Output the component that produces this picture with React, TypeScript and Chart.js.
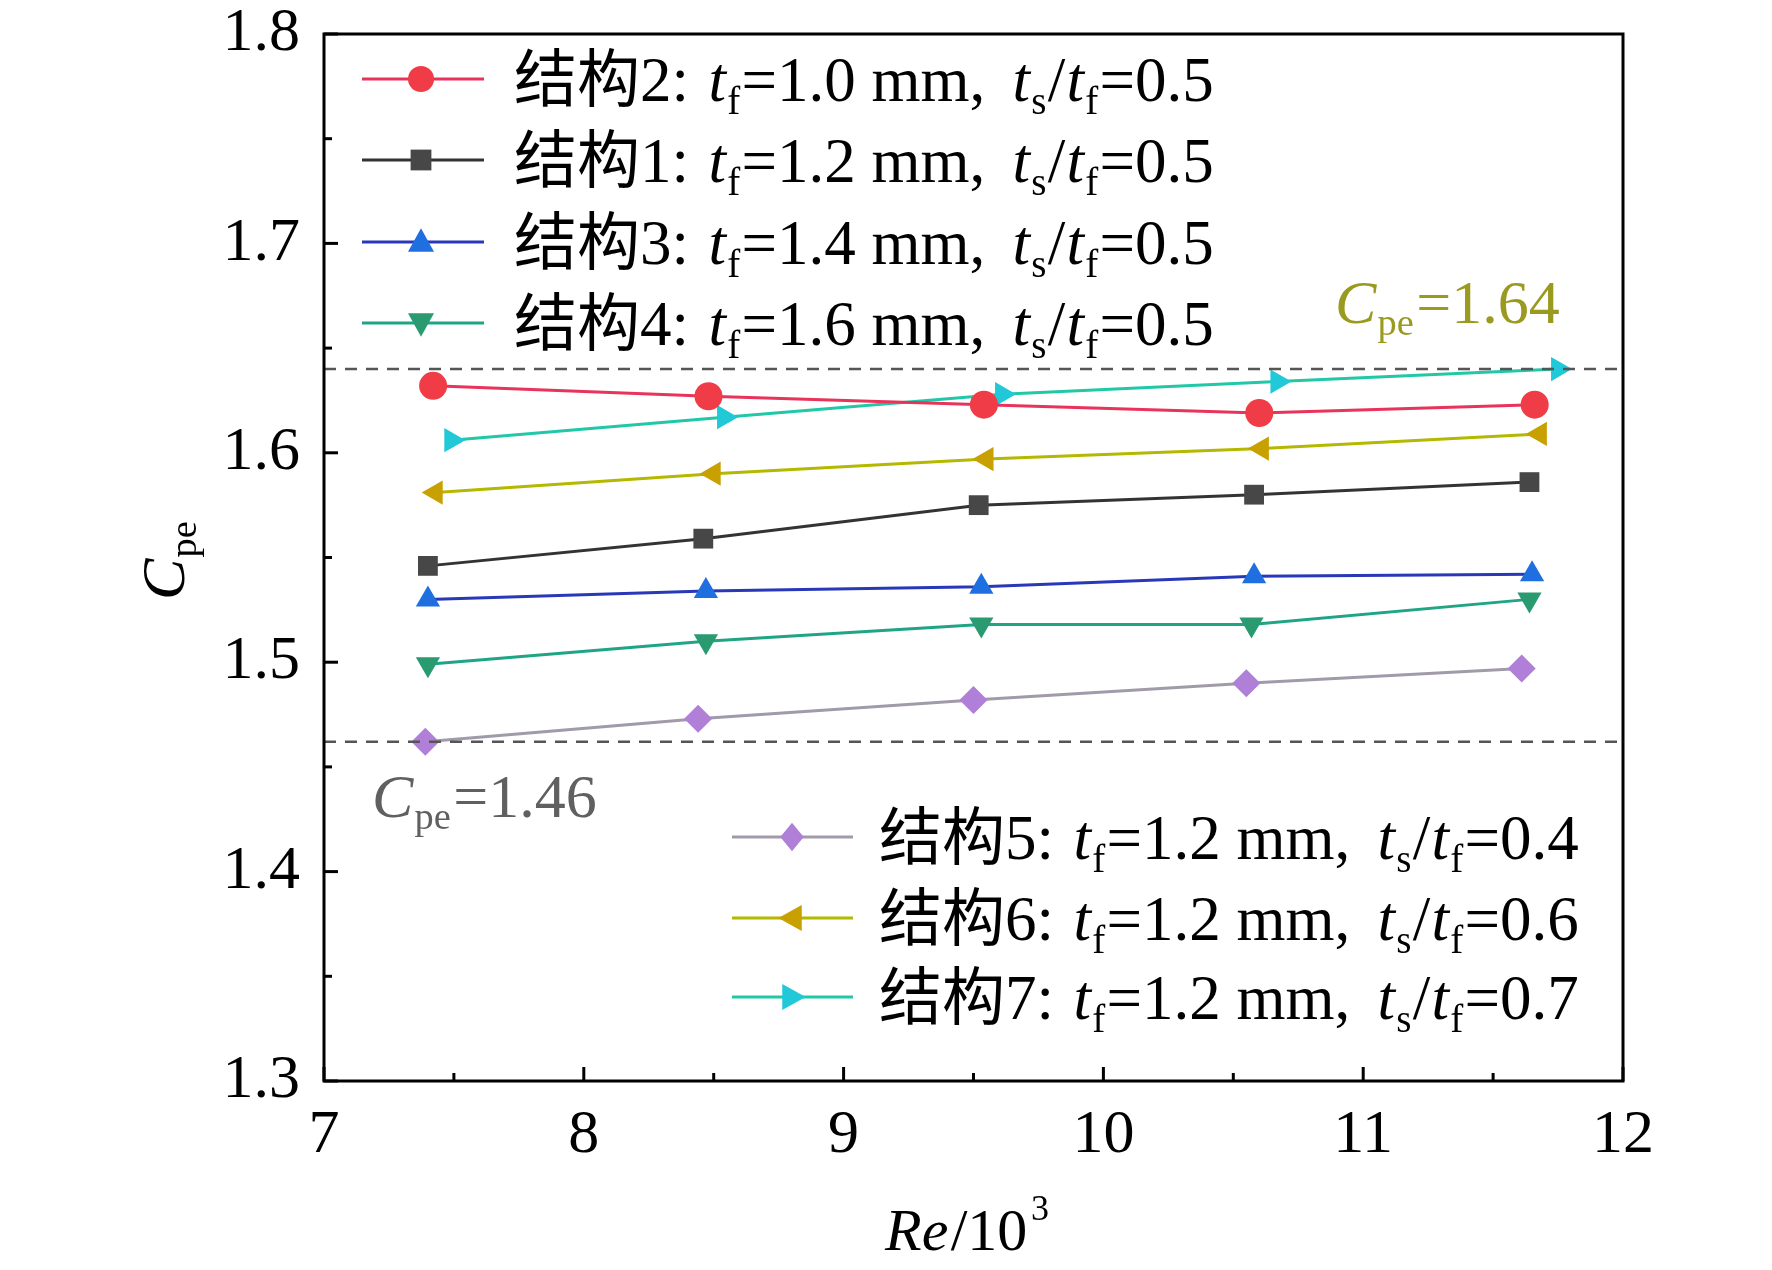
import React, { useEffect, useRef } from "react";
import { Chart, registerables } from "chart.js";
Chart.register(...registerables);

const xTicks = [7, 8, 9, 10, 11, 12];
const yTicks = [1.3, 1.4, 1.5, 1.6, 1.7, 1.8];
const s2x = [7.42, 8.48, 9.54, 10.6, 11.66];
const s2y = [1.632, 1.627, 1.623, 1.619, 1.623];
const s1x = [7.4, 8.46, 9.52, 10.58, 11.64];
const s1y = [1.546, 1.559, 1.575, 1.58, 1.586];
const s3x = [7.4, 8.47, 9.53, 10.58, 11.65];
const s3y = [1.53, 1.534, 1.536, 1.541, 1.542];
const s4x = [7.4, 8.47, 9.53, 10.57, 11.64];
const s4y = [1.499, 1.51, 1.518, 1.518, 1.53];
const s5x = [7.39, 8.44, 9.5, 10.55, 11.61];
const s5y = [1.462, 1.473, 1.482, 1.49, 1.497];
const s6x = [7.43, 8.5, 9.55, 10.61, 11.68];
const s6y = [1.581, 1.59, 1.597, 1.602, 1.609];
const s7x = [7.49, 8.54, 9.61, 10.67, 11.75];
const s7y = [1.606, 1.617, 1.628, 1.634, 1.64];
const refHigh = 1.64;
const refLow = 1.462;

type Ser = { name: string; tf: string; ratio: string; xs: number[]; ys: number[]; line: string; mark: string; style: string; rot: number };
const series: Ser[] = [
  { name: "结构2", tf: "1.0", ratio: "0.5", xs: s2x, ys: s2y, line: "#e8335a", mark: "#f03c46", style: "circle", rot: 0 },
  { name: "结构1", tf: "1.2", ratio: "0.5", xs: s1x, ys: s1y, line: "#333333", mark: "#474747", style: "rect", rot: 0 },
  { name: "结构3", tf: "1.4", ratio: "0.5", xs: s3x, ys: s3y, line: "#2838b8", mark: "#1f6fe0", style: "triangle", rot: 0 },
  { name: "结构4", tf: "1.6", ratio: "0.5", xs: s4x, ys: s4y, line: "#1fa585", mark: "#2a9a70", style: "triangle", rot: 180 },
  { name: "结构5", tf: "1.2", ratio: "0.4", xs: s5x, ys: s5y, line: "#a09aaa", mark: "#b07fd8", style: "rectRot", rot: 0 },
  { name: "结构6", tf: "1.2", ratio: "0.6", xs: s6x, ys: s6y, line: "#b5b800", mark: "#c8a000", style: "triangle", rot: -90 },
  { name: "结构7", tf: "1.2", ratio: "0.7", xs: s7x, ys: s7y, line: "#20c8a8", mark: "#20c8d8", style: "triangle", rot: 90 },
];

const SERIF = '"Liberation Serif", "DejaVu Serif", serif';
const CJK = '"Noto Sans CJK SC", sans-serif';

function marker(ctx: CanvasRenderingContext2D, s: Ser, x: number, y: number, r: number) {
  ctx.save();
  ctx.fillStyle = s.mark;
  ctx.translate(x, y);
  ctx.rotate((s.rot * Math.PI) / 180);
  ctx.beginPath();
  if (s.style === "circle") ctx.arc(0, 0, r, 0, Math.PI * 2);
  else if (s.style === "rect") ctx.rect(-r * 0.8, -r * 0.8, r * 1.6, r * 1.6);
  else if (s.style === "rectRot") { ctx.moveTo(0, -r * 1.1); ctx.lineTo(r * 0.9, 0); ctx.lineTo(0, r * 1.1); ctx.lineTo(-r * 0.9, 0); ctx.closePath(); }
  else { ctx.moveTo(0, -r * 1.05); ctx.lineTo(r * 1.0, r * 0.75); ctx.lineTo(-r * 1.0, r * 0.75); ctx.closePath(); }
  ctx.fill();
  ctx.restore();
}

type Run = { t: string; it?: boolean; sub?: boolean; cjk?: boolean };
function rich(ctx: CanvasRenderingContext2D, runs: Run[], x: number, y: number, size: number, color: string) {
  ctx.save();
  ctx.fillStyle = color;
  ctx.textBaseline = "alphabetic";
  ctx.textAlign = "left";
  let cx = x;
  for (const r of runs) {
    const sz = r.sub ? size * 0.62 : size;
    ctx.font = `${r.it ? "italic " : ""}${sz}px ${r.cjk ? CJK : SERIF}`;
    ctx.fillText(r.t, cx, y + (r.sub ? size * 0.2 : 0));
    cx += ctx.measureText(r.t).width + (r.cjk ? 0 : size * 0.02 * r.t.length);
  }
  ctx.restore();
}

function legendRuns(s: Ser): Run[] {
  return [
    { t: s.name.slice(0, 2), cjk: true }, { t: s.name.slice(2) + ": " },
    { t: "t", it: true }, { t: "f", sub: true }, { t: "=" + s.tf + " mm, " },
    { t: "t", it: true }, { t: "s", sub: true }, { t: "/" }, { t: "t", it: true }, { t: "f", sub: true }, { t: "=" + s.ratio },
  ];
}

const deco = {
  id: "deco",
  afterDatasetsDraw(chart: any) {
    const ctx = chart.ctx as CanvasRenderingContext2D;
    const { left, right, top, bottom } = chart.chartArea;
    const xs = chart.scales.x, ys = chart.scales.y;
    ctx.save();
    ctx.strokeStyle = "#555";
    ctx.lineWidth = 2.5;
    ctx.setLineDash([12, 9]);
    for (const v of [refHigh, refLow]) {
      const py = ys.getPixelForValue(v);
      ctx.beginPath(); ctx.moveTo(left, py); ctx.lineTo(right, py); ctx.stroke();
    }
    ctx.setLineDash([]);
    ctx.strokeStyle = "#000";
    ctx.lineWidth = 3;
    ctx.strokeRect(left, top, right - left, bottom - top);
    for (let v = 1.3; v <= 1.8001; v += 0.05) {
      const py = ys.getPixelForValue(v);
      const major = Math.abs(v * 10 - Math.round(v * 10)) < 0.01;
      ctx.beginPath(); ctx.moveTo(left, py); ctx.lineTo(left + (major ? 14 : 8), py); ctx.stroke();
    }
    for (let v = 7; v <= 12.001; v += 0.5) {
      const px = xs.getPixelForValue(v);
      const major = Math.abs(v - Math.round(v)) < 0.01;
      ctx.beginPath(); ctx.moveTo(px, bottom); ctx.lineTo(px, bottom - (major ? 14 : 8)); ctx.stroke();
    }
    ctx.fillStyle = "#000";
    ctx.font = `62px ${SERIF}`;
    ctx.textAlign = "right"; ctx.textBaseline = "middle";
    for (const v of yTicks) ctx.fillText(v.toFixed(1), left - 24, ys.getPixelForValue(v));
    ctx.textAlign = "center"; ctx.textBaseline = "top";
    for (const v of xTicks) ctx.fillText(String(v), xs.getPixelForValue(v), bottom + 24);
    rich(ctx, [{ t: "Re", it: true }, { t: "/10" }], 885, 1250, 60, "#000");
    ctx.font = `italic 60px ${SERIF}`;
    const a = ctx.measureText("Re").width;
    ctx.font = `60px ${SERIF}`;
    const b = ctx.measureText("/10").width;
    ctx.font = `36px ${SERIF}`;
    ctx.textAlign = "left"; ctx.textBaseline = "alphabetic";
    ctx.fillText("3", 885 + a + b + 6, 1220);
    ctx.save();
    ctx.translate(184, 600); ctx.rotate(-Math.PI / 2);
    rich(ctx, [{ t: "C", it: true }, { t: "pe", sub: true }], 0, 0, 62, "#000");
    ctx.restore();
    rich(ctx, [{ t: "C", it: true }, { t: "pe", sub: true }, { t: "=1.64" }], 1335, 323, 62, "#9a9a20");
    rich(ctx, [{ t: "C", it: true }, { t: "pe", sub: true }, { t: "=1.46" }], 372, 817, 62, "#606060");
    const rowsA = [79, 160, 242, 323];
    series.slice(0, 4).forEach((s, i) => {
      const y = rowsA[i];
      ctx.strokeStyle = s.line; ctx.lineWidth = 3;
      ctx.beginPath(); ctx.moveTo(362, y); ctx.lineTo(484, y); ctx.stroke();
      marker(ctx, s, 421, y, 13);
      rich(ctx, legendRuns(s), 514, y + 22, 63, "#000");
    });
    const rowsB = [837, 918, 997];
    series.slice(4).forEach((s, i) => {
      const y = rowsB[i];
      ctx.strokeStyle = s.line; ctx.lineWidth = 3;
      ctx.beginPath(); ctx.moveTo(732, y); ctx.lineTo(853, y); ctx.stroke();
      marker(ctx, s, 792, y, 13);
      rich(ctx, legendRuns(s), 879, y + 22, 63, "#000");
    });
    ctx.restore();
  },
};

export default function App() {
  const ref = useRef<HTMLCanvasElement>(null);
  useEffect(() => {
    document.body.style.margin = "0";
    const chart = new Chart(ref.current!, {
      type: "line",
      data: {
        datasets: series.map((s) => ({
          label: s.name,
          data: s.xs.map((x, i) => ({ x, y: s.ys[i] })),
          borderColor: s.line,
          backgroundColor: s.mark,
          pointBackgroundColor: s.mark,
          pointBorderWidth: 0,
          pointStyle: s.style as any,
          pointRotation: s.rot,
          pointRadius: 14,
          borderWidth: 3,
          tension: 0,
        })),
      },
      options: {
        animation: false,
        responsive: false,
        layout: { padding: { left: 324, top: 34, right: 149, bottom: 189 } },
        plugins: { legend: { display: false }, tooltip: { enabled: false } },
        scales: {
          x: { type: "linear", min: 7, max: 12, display: false },
          y: { type: "linear", min: 1.3, max: 1.8, display: false },
        },
      },
      plugins: [deco],
    });
    return () => chart.destroy();
  }, []);
  return <canvas ref={ref} width={1772} height={1270} style={{ display: "block", background: "#fff" }} />;
}
